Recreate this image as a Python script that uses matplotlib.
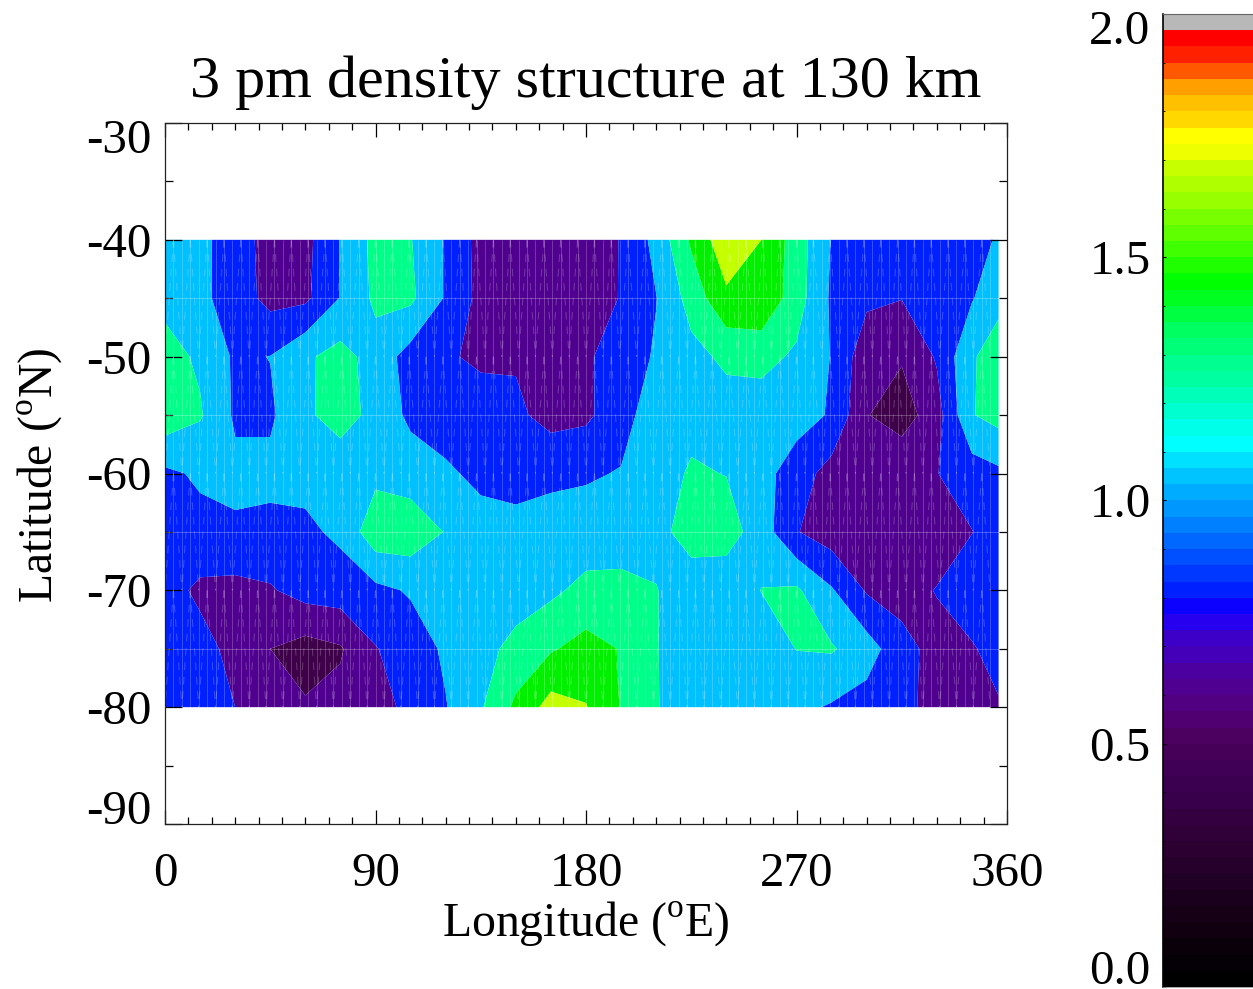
import numpy as np
import matplotlib
matplotlib.use("Agg")
import matplotlib.pyplot as plt
from matplotlib.colors import ListedColormap
from matplotlib.ticker import MultipleLocator
from matplotlib.transforms import ScaledTranslation

plt.rcParams['font.family'] = ['Liberation Serif', 'DejaVu Serif']
plt.rcParams['mathtext.fontset'] = 'custom'
plt.rcParams['mathtext.rm'] = 'Liberation Serif'

lons = [0, 15, 30, 45, 60, 75, 90, 105, 120, 135, 150, 165, 180, 195, 210, 225,
        240, 255, 270, 285, 300, 315, 330, 345, 356.4]
lats = [-40, -45, -50, -55, -60, -65, -70, -75, -80]
density = [
    [1.12, 1.05, .90, .72, .74, 1.01, 1.26, 1.21, .98, .73, .66, .65, .68, .81, 1.06, 1.43, 1.74, 1.60, 1.30, .99, .90, .86, .86, .93, 1.02],
    [1.15, 1.05, .90, .74, .76, 1.01, 1.24, 1.24, .98, .74, .66, .66, .70, .81, .995, 1.28, 1.56, 1.57, 1.29, .97, .84, .805, .86, .985, 1.15],
    [1.27, 1.17, .97, 1.004, 1.17, 1.27, 1.12, .92, .81, .785, .78, .70, .77, .90, 1.02, 1.14, 1.24, 1.26, 1.17, .99, .67, .62, .82, 1.18, 1.29],
    [1.33, 1.22, .97, .97, 1.16, 1.30, 1.13, .96, .88, .84, .84, .73, .76, .93, 1.10, 1.15, 1.11, 1.10, 1.08, .98, .61, .50, .72, 1.19, 1.27],
    [.96, 1.03, 1.05, 1.05, 1.06, 1.05, 1.15, 1.10, 1.04, .94, .92, .96, .98, 1.01, 1.12, 1.22, 1.195, 1.07, .90, .72, .66, .77, .795, .90, .96],
    [.88, .94, .97, .95, .96, 1.04, 1.33, 1.33, 1.19, 1.10, 1.07, 1.08, 1.08, 1.08, 1.12, 1.31, 1.29, 1.10, .81, .70, .66, .66, .68, .795, .90],
    [.88, .76, .74, .78, .88, .90, .95, 1.02, 1.05, 1.07, 1.09, 1.16, 1.26, 1.27, 1.21, 1.06, 1.07, 1.205, 1.23, 1.02, .78, .72, .81, .93, .96],
    [.90, .87, .74, .60, .52, .58, .79, .90, 1.03, 1.12, 1.27, 1.38, 1.47, 1.39, 1.21, 1.07, 1.05, 1.09, 1.205, 1.22, 1.09, .87, .73, .78, .88],
    [.93, .88, .80, .66, .62, .66, .74, .84, .99, 1.18, 1.44, 1.68, 1.61, 1.39, 1.21, 1.10, 1.09, 1.08, 1.05, .98, .92, .84, .75, .72, .78],
]
levels = [0.4, 0.6, 0.8, 1.0, 1.2, 1.4, 1.6, 1.8]
level_colors = ['#3e0048', '#50008f', '#0020ff', '#00c0ff', '#00ff88', '#00f000', '#c4ff00']

band_colors = [
    '#000000', '#050005', '#0a000a', '#100010', '#150015', '#1a001c', '#200024', '#26002a',
    '#2c0030', '#300038', '#340040', '#38004a', '#3c0050', '#400056', '#460058', '#4c0060',
    '#500070', '#500080', '#500090', '#4c00a0', '#4400b8', '#3c00c8', '#2800f0', '#0c00ff',
    '#0020ff', '#0038ff', '#0050ff', '#0068ff', '#0080ff', '#0098ff', '#00acff', '#00c4ff',
    '#00e0ff', '#00ffff', '#00ffe8', '#00ffd0', '#00ffb8', '#00ffa0', '#00ff90', '#00ff78',
    '#00ff60', '#00ff40', '#00ff20', '#00ff00', '#20ff00', '#40ff00', '#60ff00', '#78ff00',
    '#98ff00', '#b0ff00', '#c8ff00', '#eeff00', '#ffff00', '#ffd800', '#ffc000', '#ffa000',
    '#ff5800', '#ff2000', '#ff0000', '#b8b8b8',
]
bar_ticks = [0.0, 0.5, 1.0, 1.5, 2.0]
bar_labels = ['0.0', '0.5', '1.0', '1.5', '2.0']
lat_ticks = [-90, -80, -70, -60, -50, -40, -30]
lat_labels = ['-90', '-80', '-70', '-60', '-50', '-40', '-30']
title = '3 pm density structure at 130 km'
xlabel = r'Longitude ($^{\mathrm{o}}$E)'
ylabel = r'Latitude ($^{\mathrm{o}}$N)'

W, H = 1253, 989
TICKFS = 35.3
fig = plt.figure(figsize=(W / 100, H / 100), dpi=100, facecolor='white')
ax = fig.add_axes([165 / W, 1 - 824 / H, (1007 - 165) / W, (824 - 123) / H])
ax.contourf(lons, lats, density, levels=levels, colors=level_colors, antialiased=True)

# faint mesh seams left by the original triangulated fill
mesh_lons = np.arange(0, 356.4, 3.6)
ax.vlines(mesh_lons, -80, -40, color='white', lw=0.7, alpha=0.22, zorder=2)
ax.hlines([-45, -55, -65, -75], 0, 356.4, color='white', lw=0.7, alpha=0.25, zorder=2)
for la in [-40, -50, -60, -70]:
    for i, lo in enumerate(mesh_lons[:-1]):
        lo2 = mesh_lons[i + 1]
        ax.plot([lo, lo2] if i % 2 else [lo2, lo], [la, la - 10], color='white', lw=0.8,
                alpha=0.2, ls=(0, (7, 6)), zorder=2)

ax.set_xlim(0, 360)
ax.set_ylim(-90, -30)
ax.xaxis.set_major_locator(MultipleLocator(90))
ax.xaxis.set_minor_locator(MultipleLocator(10))
ax.yaxis.set_minor_locator(MultipleLocator(5))
ax.tick_params(axis='x', which='major', direction='in', top=True, length=10, width=0.9, labelsize=TICKFS, pad=20)
ax.tick_params(axis='x', which='minor', direction='in', top=True, length=5, width=0.9)
ax.tick_params(axis='y', which='major', direction='in', right=True, length=12, width=0.9, labelsize=TICKFS, pad=9.5)
ax.tick_params(axis='y', which='minor', direction='in', right=True, length=6, width=0.9)
ax.set_yticks(lat_ticks)
ax.set_yticklabels(lat_labels)
for s in ax.spines.values():
    s.set_linewidth(0.9)
    s.set_color('#222222')
fig.text(586 / W, 1 - 83 / H, title, fontsize=43.3, ha='center', va='center')
fig.text(586 / W, 1 - 924 / H, xlabel, fontsize=34.4, ha='center', va='center')
fig.text(40 / W, 1 - 475 / H, ylabel, fontsize=34.4, ha='center', va='center', rotation=90)

cax = fig.add_axes([1163 / W, 1 - 987 / H, (W - 1163) / W, (987 - 14) / H])
edges = np.linspace(0, 2, len(band_colors) + 1)
cax.pcolormesh([0, 1], edges, np.arange(len(band_colors)).reshape(-1, 1),
               cmap=ListedColormap(band_colors), vmin=-0.5, vmax=len(band_colors) - 0.5)
cax.set_xlim(0, 1)
cax.set_ylim(0, 2)
cax.set_xticks([])
cax.set_yticks(bar_ticks)
cax.set_yticklabels(bar_labels)
cax.yaxis.set_minor_locator(MultipleLocator(0.1))
cax.tick_params(axis='y', which='major', direction='in', length=2.5, width=0.8, labelsize=TICKFS, pad=9)
cax.tick_params(axis='y', which='minor', direction='in', length=1.2, width=0.6)
cax.spines['left'].set_linewidth(1.2)
cax.spines['top'].set_color('#666666')
cax.spines['right'].set_visible(False)
cax.spines['bottom'].set_linewidth(0.6)
cax.spines['bottom'].set_color('#999999')

# the end labels of both scales sit inside the axis range
up4 = ScaledTranslation(0, 0.04, fig.dpi_scale_trans)
up3 = ScaledTranslation(0, 0.03, fig.dpi_scale_trans)
for labs in (ax.get_yticklabels(), cax.get_yticklabels()):
    labs[0].set_verticalalignment('baseline')
    labs[-1].set_verticalalignment('top')
    labs[-1].set_transform(labs[-1].get_transform() + up4)
    for lab in labs[1:-1]:
        lab.set_verticalalignment('center_baseline')
low = cax.get_yticklabels()[0]
low.set_transform(low.get_transform() + up3)

fig.savefig('out.png', dpi=100)
